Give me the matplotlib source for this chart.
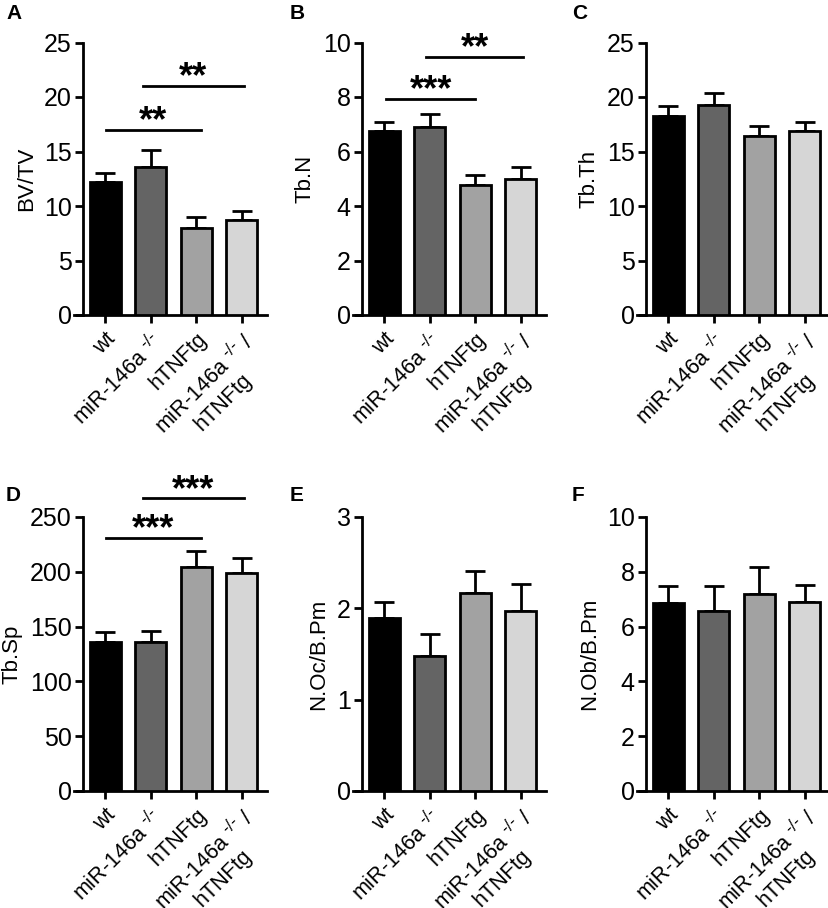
import matplotlib
matplotlib.use("Agg")
import matplotlib.pyplot as plt

plt.rcParams['font.family'] = ['Liberation Sans', 'DejaVu Sans']
plt.rcParams['mathtext.default'] = 'regular'

# groups
groups = ['wt', 'miR-146a $^{\\text{-/-}}$', 'hTNFtg', 'miR-146a $^{\\text{-/-}}$ /\nhTNFtg']
bar_colors = ['#000000', '#646464', '#a2a2a2', '#d6d6d6']

# panel data: mean values and upper error (SEM)
bvtv = [12.2, 13.6, 8.0, 8.7]
bvtv_err = [0.8, 1.5, 1.0, 0.85]
tbn = [6.74, 6.9, 4.76, 5.0]
tbn_err = [0.34, 0.46, 0.39, 0.43]
tbth = [18.3, 19.3, 16.4, 16.9]
tbth_err = [0.9, 1.1, 0.9, 0.8]
tbsp = [135.7, 135.7, 204.7, 199.2]
tbsp_err = [9.1, 10.6, 14.3, 13.7]
noc = [1.89, 1.48, 2.17, 1.97]
noc_err = [0.18, 0.24, 0.24, 0.30]
nob = [6.85, 6.57, 7.18, 6.89]
nob_err = [0.63, 0.91, 0.98, 0.63]

# significance brackets: (start, end, y, label)
sig_a = [(0.02, 2.1, 17.0, '**'), (0.83, 3.04, 21.0, '**')]
sig_b = [(0.05, 2.0, 7.92, '***'), (0.93, 3.05, 9.46, '**')]
sig_d = [(0.02, 2.1, 231, '***'), (0.83, 3.04, 267, '***')]

panels = [
    ('A', 'BV/TV', bvtv, bvtv_err, (0, 25), [0, 5, 10, 15, 20, 25], sig_a),
    ('B', 'Tb.N', tbn, tbn_err, (0, 10), [0, 2, 4, 6, 8, 10], sig_b),
    ('C', 'Tb.Th', tbth, tbth_err, (0, 25), [0, 5, 10, 15, 20, 25], []),
    ('D', 'Tb.Sp', tbsp, tbsp_err, (0, 250), [0, 50, 100, 150, 200, 250], sig_d),
    ('E', 'N.Oc/B.Pm', noc, noc_err, (0, 3), [0, 1, 2, 3], []),
    ('F', 'N.Ob/B.Pm', nob, nob_err, (0, 10), [0, 2, 4, 6, 8, 10], []),
]

W, H = 829, 908
fig = plt.figure(figsize=(W / 100, H / 100), dpi=100)

lefts = [74, 353, 637]
rows = [(42.5, 315), (517, 791)]
letter_pos = [(6, 4), (290, 4), (572, 4), (6, 486), (290, 486), (572, 486)]

for k, (letter, ylabel, vals, errs, ylim, yticks, sigs) in enumerate(panels):
    r, c = divmod(k, 3)
    top, bot = rows[r]
    ax = fig.add_axes([lefts[c] / W, 1 - bot / H, 193 / W, (bot - top) / H])
    x = range(len(vals))
    ax.bar(x, vals, width=0.68, color=bar_colors, edgecolor='black', linewidth=2, zorder=3)
    ax.errorbar(x, vals, yerr=[[0] * 4, errs], fmt='none', ecolor='black',
                elinewidth=2, capsize=7, capthick=2, zorder=2)
    ax.set_xlim(-0.68, 3.55)
    ax.set_ylim(*ylim)
    ax.set_yticks(yticks)
    ax.set_xticks(list(x))
    ax.set_xticklabels(groups, rotation=45, ha='right', rotation_mode='anchor',
                       fontsize=15.5, multialignment='center', linespacing=1.2)
    ax.tick_params(axis='y', labelsize=18, width=2, length=6, direction='out', pad=2)
    ax.tick_params(axis='x', width=2, length=6, direction='out', pad=4)
    ax.set_ylabel(ylabel, fontsize=16, labelpad=5)
    for s in ['top', 'right']:
        ax.spines[s].set_visible(False)
    ax.spines['left'].set_position(('data', -0.49))
    ax.spines['left'].set_linewidth(2)
    ax.spines['bottom'].set_linewidth(2)
    ax.spines['left'].set_bounds(*ylim)
    for x0, x1, y, lab in sigs:
        ax.plot([x0, x1], [y, y], color='black', linewidth=2, clip_on=False)
        ax.annotate(lab, ((x0 + x1) / 2, y), xytext=(0, -1), textcoords='offset points',
                    ha='center', va='baseline', fontsize=26, fontweight='bold',
                    annotation_clip=False)
    lx, ly = letter_pos[k]
    fig.text(lx / W, 1 - ly / H, letter, fontsize=15, fontweight='bold', va='top', ha='left')

fig.savefig('out.png', dpi=100)
